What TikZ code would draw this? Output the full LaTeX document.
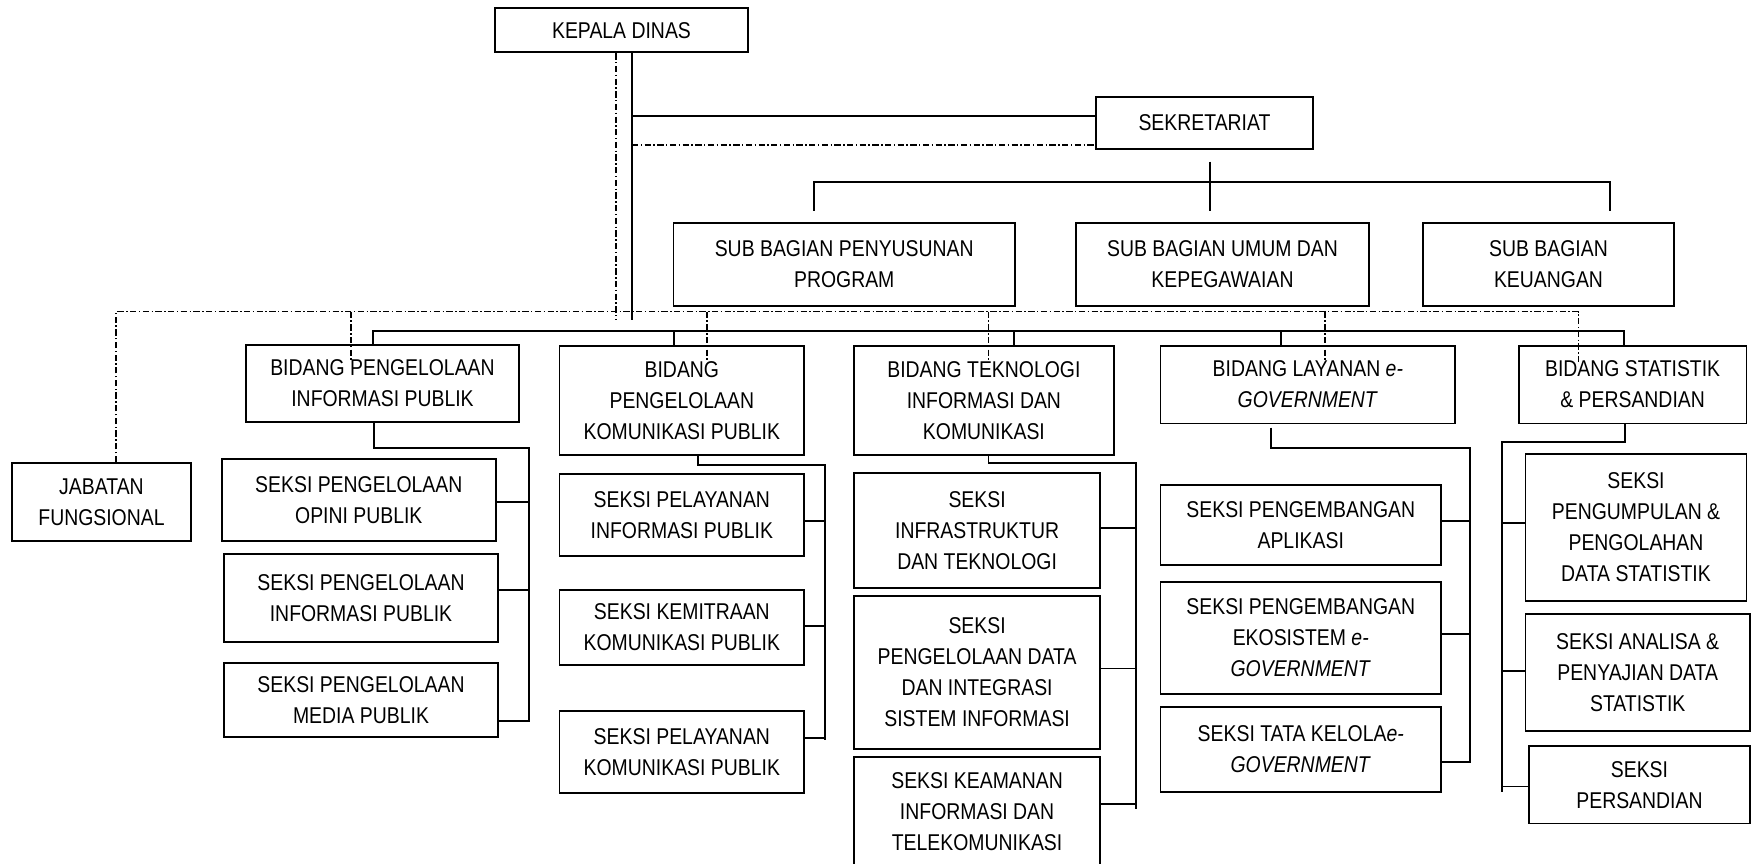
\documentclass[tikz,border=0pt]{standalone}
\usepackage{fontspec}
\setmainfont{Liberation Sans}[FakeStretch=0.85]
\usetikzlibrary{calc}
\newcommand\obox[6]{\node[box, minimum width={(#4-#2)*0.02cm}, minimum height={(#5-#3)*0.02cm}] (#1) at ({(#2+#4)/2},{(#3+#5)/2}) {#6};}
\begin{document}
\begin{tikzpicture}[x=0.02cm,y=-0.02cm,
  box/.style={draw, line width=1.1pt, inner sep=0pt, align=center, anchor=center,
    font=\fontsize{13pt}{17.6pt}\selectfont},
  conn/.style={line width=1.1pt},
  dd/.style={line width=0.8pt, dash pattern=on 3.6pt off 1.4pt on 0.8pt off 1.4pt}]
\useasboundingbox (0,0) rectangle (1756,863);
% top
\obox{kepala}{495}{8.3}{748}{52.3}{KEPALA DINAS}
\obox{sek}{1096}{96.7}{1313}{149}{SEKRETARIAT}
\obox{pen}{673.5}{223.3}{1015}{305.7}{SUB BAGIAN PENYUSUNAN\\PROGRAM}
\obox{umum}{1076}{223.3}{1369}{305.7}{SUB BAGIAN UMUM DAN\\KEPEGAWAIAN}
\obox{keu}{1423}{223.3}{1674}{305.7}{SUB BAGIAN\\KEUANGAN}
% bidang
\obox{jab}{12}{463}{191}{541}{JABATAN\\FUNGSIONAL}
\obox{pip}{246}{345}{519}{422}{BIDANG PENGELOLAAN\\INFORMASI PUBLIK}
\obox{pkp}{559.5}{345.6}{804.2}{455}{BIDANG\\PENGELOLAAN\\KOMUNIKASI PUBLIK}
\obox{tik}{854.2}{345.6}{1113.6}{455}{BIDANG TEKNOLOGI\\INFORMASI DAN\\KOMUNIKASI}
\obox{lay}{1160.5}{345.6}{1455.2}{423.5}{BIDANG LAYANAN \textit{e-}\\\textit{GOVERNMENT}}
\obox{stat}{1518.7}{345.6}{1746.5}{423.5}{BIDANG STATISTIK\\\& PERSANDIAN}
% seksi
\obox{o1}{222}{459.2}{495.6}{541.1}{SEKSI PENGELOLAAN\\OPINI PUBLIK}
\obox{o2}{224}{553.7}{498}{642}{SEKSI PENGELOLAAN\\INFORMASI PUBLIK}
\obox{o3}{224}{663.1}{498}{736.9}{SEKSI PENGELOLAAN\\MEDIA PUBLIK}
\obox{p1}{559.5}{474.1}{804.2}{556}{SEKSI PELAYANAN\\INFORMASI PUBLIK}
\obox{p2}{559.5}{590}{804.2}{664.8}{SEKSI KEMITRAAN\\KOMUNIKASI PUBLIK}
\obox{p3}{559.5}{710.7}{804.2}{793}{SEKSI PELAYANAN\\KOMUNIKASI PUBLIK}
\obox{t1}{854.2}{472.8}{1100}{588.3}{SEKSI\\INFRASTRUKTUR\\DAN TEKNOLOGI}
\obox{t2}{854.2}{595.8}{1100}{748.8}{SEKSI\\PENGELOLAAN DATA\\DAN INTEGRASI\\SISTEM INFORMASI}
\obox{t3}{854.2}{757.3}{1100}{866}{SEKSI KEAMANAN\\INFORMASI DAN\\TELEKOMUNIKASI}
\obox{l1}{1160.5}{484.7}{1441}{565.2}{SEKSI PENGEMBANGAN\\APLIKASI}
\obox{l2}{1160.5}{582.2}{1441}{693.7}{SEKSI PENGEMBANGAN\\EKOSISTEM \textit{e-}\\\textit{GOVERNMENT}}
\obox{l3}{1160.5}{707.3}{1441}{791.6}{SEKSI TATA KELOLA\textit{e-}\\\textit{GOVERNMENT}}
\obox{s1}{1525.5}{454.4}{1746.5}{600.6}{SEKSI\\PENGUMPULAN \&\\PENGOLAHAN\\DATA STATISTIK}
\obox{s2}{1525.5}{614.2}{1749.9}{731}{SEKSI ANALISA \&\\PENYAJIAN DATA\\STATISTIK}
\obox{s3}{1529}{746.4}{1749.9}{823.5}{SEKSI\\PERSANDIAN}
% coordinates top
\coordinate (kS) at (632,320);
\coordinate (kD) at (616,319);
\coordinate (sj) at (632,116);
\coordinate (sjd) at (632,145);
\coordinate (st) at (1210,161.7);
\coordinate (sb) at (1210,210.7);
\coordinate (subL) at (814,181.7);
\coordinate (subR) at (1610,181.7);
\coordinate (dL) at (116,311.7);
\coordinate (dR) at (1578.5,311.7);
\coordinate (dEnd) at (0,362);
\coordinate (d1) at (351,311.7);
\coordinate (d2) at (707,311.7);
\coordinate (d3) at (988.5,311.7);
\coordinate (d4) at (1325,311.7);
\coordinate (bL) at (372.9,331);
\coordinate (bR) at (1624,331);
\coordinate (b2) at (674.4,331);
\coordinate (b3) at (1014.3,331);
\coordinate (b4) at (1280.8,331);
% top connectors
\draw[conn] (kepala.south -| kS) -- (kS);
\draw[dd] (kepala.south -| kD) -- (kD);
\draw[conn] (sj) -- (sj -| sek.west);
\draw[dd] (sjd) -- (sjd -| sek.west);
\draw[conn] (st) -- (sb);
\draw[conn] (subL |- sb) -- (subL) -- (subR) -- (subR |- sb);
% dash-dot bus
\draw[dd] (jab.north -| dL) -- (dL) -- (dR) -- (dR |- dEnd);
\foreach \c in {d1,d2,d3,d4} \draw[dd] (\c) -- (\c |- dEnd);
% solid bus
\draw[conn] (pip.north -| bL) -- (bL) -- (bR) -- (stat.north -| bR);
\draw[conn] (b2) -- (pkp.north -| b2);
\draw[conn] (b3) -- (tik.north -| b3);
\draw[conn] (b4) -- (lay.north -| b4);
% column 1
\coordinate (c1d) at (373.6,448.3);
\coordinate (c1a) at (529.2,448.3);
\coordinate (c1b) at (529.2,721.6);
\draw[conn] (pip.south -| c1d) -- (c1d) -- (c1a) -- (c1b);
\coordinate (r11) at (529.2,502);
\coordinate (r12) at (529.2,590);
\coordinate (r13) at (529.2,720.9);
\draw[conn] (r11) -- (r11 -| o1.east);
\draw[conn] (r12) -- (r12 -| o2.east);
\draw[conn] (r13) -- (r13 -| o3.east);
% column 2
\coordinate (c2d) at (698.2,465);
\coordinate (c2a) at (824.6,465);
\coordinate (c2b) at (824.6,739.6);
\draw[conn] (pkp.south -| c2d) -- (c2d) -- (c2a) -- (c2b);
\coordinate (r21) at (824.6,521);
\coordinate (r22) at (824.6,626.4);
\coordinate (r23) at (824.6,737.9);
\draw[conn] (r21) -- (r21 -| p1.east);
\draw[conn] (r22) -- (r22 -| p2.east);
\draw[conn] (r23) -- (r23 -| p3.east);
% column 3
\coordinate (c3d) at (988.5,463.2);
\coordinate (c3a) at (1135.7,463.2);
\coordinate (c3b) at (1135.7,808.6);
\draw[conn] (tik.south -| c3d) -- (c3d) -- (c3a) -- (c3b);
\coordinate (r31) at (1135.7,527.8);
\coordinate (r32) at (1135.7,668.5);
\coordinate (r33) at (1135.7,804.2);
\draw[conn] (r31) -- (r31 -| t1.east);
\draw[conn] (r32) -- (r32 -| t2.east);
\draw[conn] (r33) -- (r33 -| t3.east);
% column 4
\coordinate (c4t) at (1271.3,427.6);
\coordinate (c4d) at (1271.3,448);
\coordinate (c4a) at (1469.8,448);
\coordinate (c4b) at (1469.8,763.4);
\draw[conn] (c4t) -- (c4d) -- (c4a) -- (c4b);
\coordinate (r41) at (1469.8,521);
\coordinate (r42) at (1469.8,633.9);
\coordinate (r43) at (1469.8,761.7);
\draw[conn] (r41) -- (r41 -| l1.east);
\draw[conn] (r42) -- (r42 -| l2.east);
\draw[conn] (r43) -- (r43 -| l3.east);
% column 5
\coordinate (c5d) at (1625,442.2);
\coordinate (c5a) at (1501.7,442.2);
\coordinate (c5b) at (1501.7,791.6);
\draw[conn] (stat.south -| c5d) -- (c5d) -- (c5a) -- (c5b);
\coordinate (r51) at (1501.7,523);
\coordinate (r52) at (1501.7,670.6);
\coordinate (r53) at (1501.7,786.5);
\draw[conn] (r51) -- (r51 -| s1.west);
\draw[conn] (r52) -- (r52 -| s2.west);
\draw[conn] (r53) -- (r53 -| s3.west);
\end{tikzpicture}
\end{document}
